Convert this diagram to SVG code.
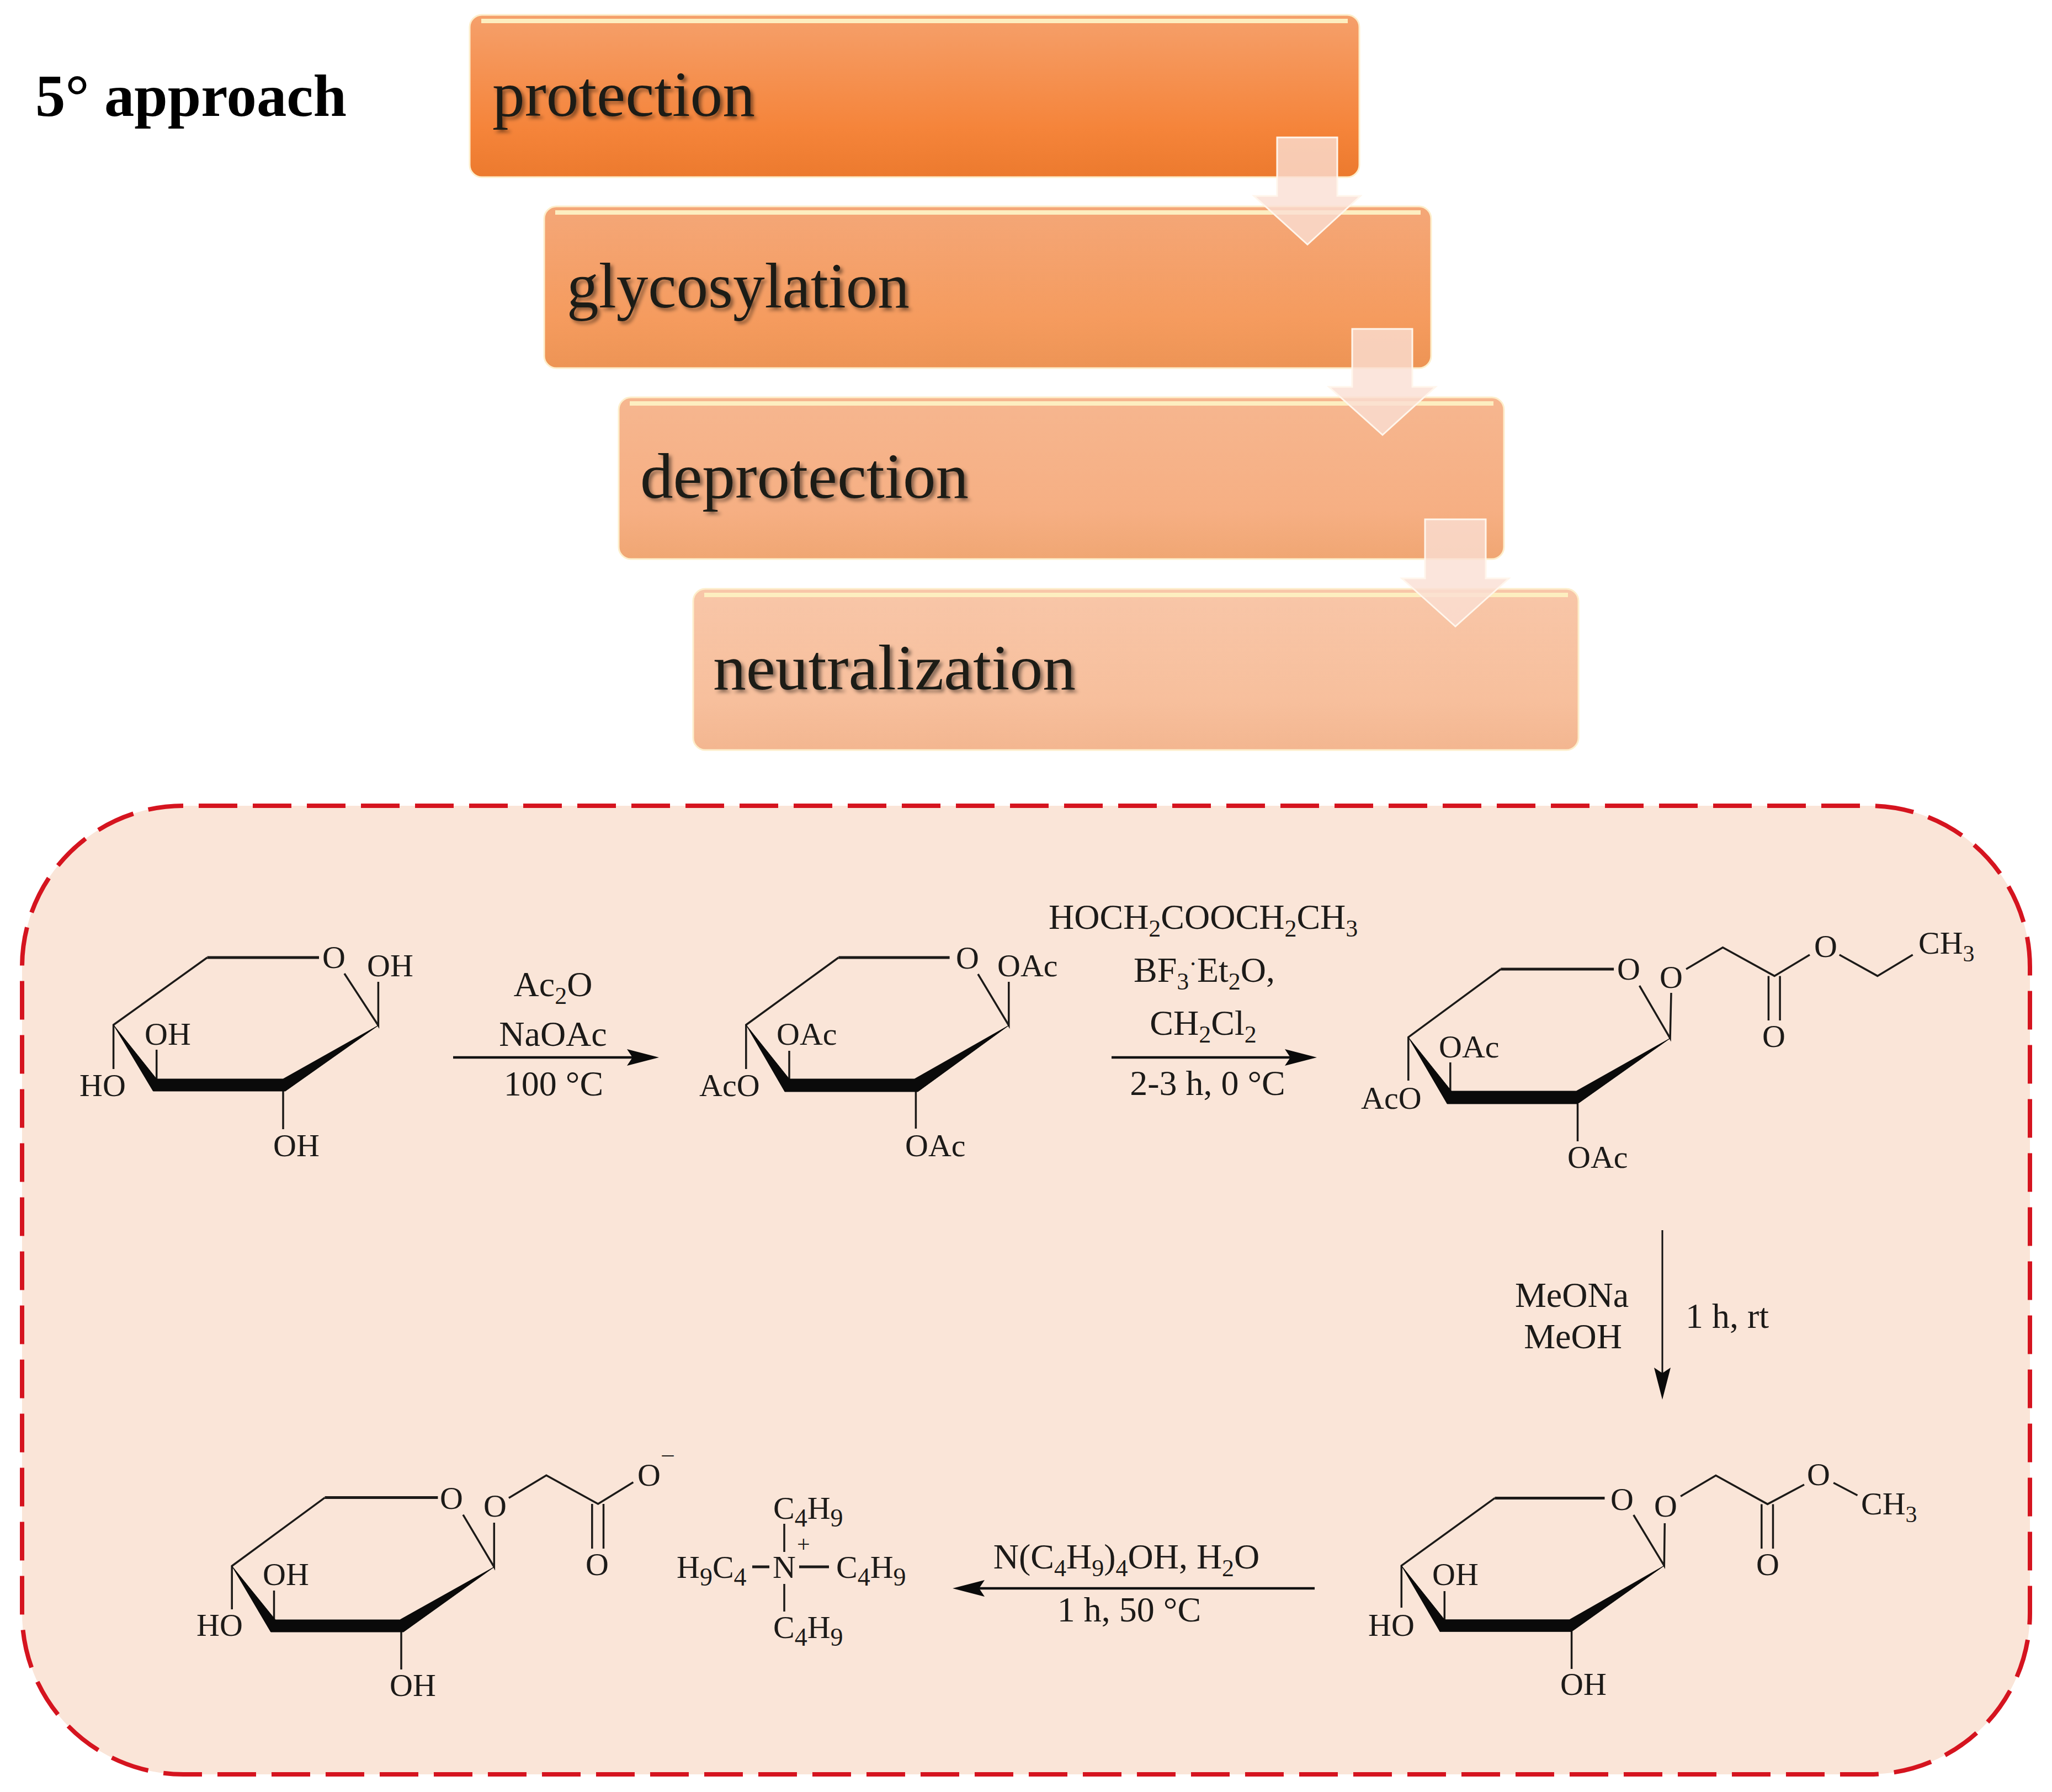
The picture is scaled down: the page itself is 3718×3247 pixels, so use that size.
<svg xmlns="http://www.w3.org/2000/svg" width="3718" height="3247" viewBox="0 0 3718 3247">
<style>
text{font-family:"Liberation Serif","Times New Roman",serif;fill:#1c1a18}
.l{font-size:58px}
.r{font-size:64px}
.c{text-anchor:middle}
.s{font-size:42px}
.cs{font-size:46px}
.rs{font-size:44px}
.h{font-size:116px;filter:url(#ts)}
.t{font-size:108px;font-weight:bold;fill:#000}
.b{fill:none;stroke:#1c1a18;stroke-width:3.5}
.tb{fill:none;stroke:#1c1a18;stroke-width:5}
.f{fill:#0a0a0a;stroke:#0a0a0a;stroke-width:1}
.box{stroke:#fdeecb;stroke-width:3}
.hl{fill:none;stroke:#fdeec0;stroke-width:8}
.dn{fill:#fadfd3;fill-opacity:.8;stroke:#fff6ec;stroke-width:3}
.ra{fill:none;stroke:#111;stroke-width:4.5;marker-end:url(#ah)}
</style>
<defs>
<filter id="ts" x="-5%" y="-20%" width="110%" height="140%"><feDropShadow dx="5" dy="5" stdDeviation="3" flood-color="#000" flood-opacity=".45"/></filter>
<linearGradient id="g1" x1="0" y1="0" x2="0" y2="1"><stop offset="0" stop-color="#f5a06b"/><stop offset=".7" stop-color="#f5843a"/><stop offset="1" stop-color="#ec7a2e"/></linearGradient>
<linearGradient id="g2" x1="0" y1="0" x2="0" y2="1"><stop offset="0" stop-color="#f4a778"/><stop offset=".7" stop-color="#f59b5e"/><stop offset="1" stop-color="#ed9455"/></linearGradient>
<linearGradient id="g3" x1="0" y1="0" x2="0" y2="1"><stop offset="0" stop-color="#f6b68f"/><stop offset=".7" stop-color="#f6af83"/><stop offset="1" stop-color="#f0a673"/></linearGradient>
<linearGradient id="g4" x1="0" y1="0" x2="0" y2="1"><stop offset="0" stop-color="#f8c6a8"/><stop offset=".7" stop-color="#f7bf9c"/><stop offset="1" stop-color="#f3b690"/></linearGradient>
<marker id="ah" markerUnits="userSpaceOnUse" viewBox="0 0 60 32" refX="40" refY="16" markerWidth="60" markerHeight="32" orient="auto"><path d="M2,1 L60,16 L2,31 L12,16Z" fill="#0a0a0a"/></marker>
</defs>
<rect width="3718" height="3247" fill="#fff"/>
<text id="title" class="t" x="64" y="210" textLength="564" lengthAdjust="spacingAndGlyphs">5° approach</text>

<g id="step-protection">
<rect class="box" x="851" y="27" width="1612" height="294" rx="22" fill="url(#g1)"/>
<path class="hl" d="M872,38H2442"/>
<text class="h" x="892" y="210" textLength="476" lengthAdjust="spacingAndGlyphs">protection</text>
</g>
<g id="step-glycosylation">
<rect class="box" x="986" y="374" width="1607" height="293" rx="22" fill="url(#g2)"/>
<path class="hl" d="M1006,385H2574"/>
<text class="h" x="1027" y="557" textLength="621" lengthAdjust="spacingAndGlyphs">glycosylation</text>
</g>
<g id="step-deprotection">
<rect class="box" x="1121" y="720" width="1604" height="293" rx="22" fill="url(#g3)"/>
<path class="hl" d="M1141,731H2706"/>
<text class="h" x="1160" y="902" textLength="595" lengthAdjust="spacingAndGlyphs">deprotection</text>
</g>
<g id="step-neutralization">
<rect class="box" x="1256" y="1067" width="1604" height="292" rx="22" fill="url(#g4)"/>
<path class="hl" d="M1276,1078H2841"/>
<text class="h" x="1292" y="1249" textLength="657" lengthAdjust="spacingAndGlyphs">neutralization</text>
</g>

<rect id="panel" x="40" y="1460" width="3638" height="1755" rx="292" fill="#fae5d8" stroke="#d5141f" stroke-width="8" stroke-dasharray="70 28" stroke-dashoffset="-28"/>

<g id="connectors">
<path class="dn" d="M2314,249H2423V355H2465L2369,443L2272,355H2314Z"/>
<path class="dn" d="M2450,596H2559V701H2601L2505,788L2408,701H2450Z"/>
<path class="dn" d="M2582,941H2692V1048H2734L2637,1135L2540,1048H2582Z"/>
<path class="ra" d="M821,1916H1174"/>
<path class="ra" d="M2014,1916H2366"/>
<path class="ra" style="stroke-width:3" d="M3012,2229V2516"/>
<path class="ra" d="M2382,2878H1746"/>
</g>

<g id="mol1">
<path class="tb" d="M375.5,1735H578"/>
<path class="b" d="M375.5,1735L205.6,1857V1937M624,1764L685.4,1858V1779M283.7,1955V1902M513,1977V2046"/>
<path class="f" d="M685.4,1858L513,1955L517,1977ZM283.7,1955H513L517,1977H277.5ZM205.6,1857L283.7,1955L277.5,1977Z"/>
<text class="l c" x="605" y="1754">O</text>
<text class="l" x="665" y="1769">OH</text>
<text class="l" x="262" y="1893">OH</text>
<text class="l" x="144" y="1986">HO</text>
<text class="l" x="495" y="2095">OH</text>
</g>
<g id="reagents1">
<text class="r c" x="1002" y="1805">Ac<tspan class="rs" dy="14">2</tspan><tspan dy="-14">O</tspan></text>
<text class="r c" x="1002" y="1895">NaOAc</text>
<text class="r c" x="1003" y="1985">100 °C</text>
</g>

<g id="mol2">
<path class="tb" d="M1519.4,1735H1720.6"/>
<path class="b" d="M1519.4,1735L1351.8,1857V1937M1772,1765L1827.8,1858V1779M1430,1955V1904M1659.4,1978V2045"/>
<path class="f" d="M1827.8,1858L1657,1955L1663,1978ZM1430,1955H1657L1663,1978H1422ZM1351.8,1857L1430,1955L1422,1978Z"/>
<text class="l c" x="1753" y="1755">O</text>
<text class="l" x="1807" y="1769">OAc</text>
<text class="l" x="1407" y="1893">OAc</text>
<text class="l" x="1267" y="1986">AcO</text>
<text class="l" x="1640" y="2095">OAc</text>
</g>
<g id="reagents2">
<text class="r" x="1900" y="1683">HOCH<tspan class="rs" dy="14">2</tspan><tspan dy="-14">COOCH</tspan><tspan class="rs" dy="14">2</tspan><tspan dy="-14">CH</tspan><tspan class="rs" dy="14">3</tspan></text>
<text class="r c" x="2182" y="1779">BF<tspan class="rs" dy="14">3</tspan><tspan class="rs" dy="-32">·</tspan><tspan dy="18">Et</tspan><tspan class="rs" dy="14">2</tspan><tspan dy="-14">O,</tspan></text>
<text class="r c" x="2180" y="1875">CH<tspan class="rs" dy="14">2</tspan><tspan dy="-14">Cl</tspan><tspan class="rs" dy="14">2</tspan></text>
<text class="r c" x="2188" y="1984">2-3 h, 0 °C</text>
</g>

<g id="mol3">
<path class="tb" d="M2719.3,1756H2924.1"/>
<path class="b" d="M2719.3,1756L2551.8,1879.4V1958M2970.5,1786L3026.1,1881.3L3028,1799M2627.8,1977V1925M2858.5,2000V2068"/>
<path class="f" d="M3026.1,1881.3L2856.1,1977L2858.5,2000ZM2629.8,1977H2856.1L2858.5,2000H2622.2ZM2551.8,1879.4L2629.8,1977L2622.2,2000Z"/>
<path class="b" d="M3055.1,1756L3121.5,1716.7L3215.1,1768.4L3279,1730M3332.8,1730L3401.8,1768.4L3465.7,1730M3204.4,1768.4V1849M3225.1,1768.4V1849"/>
<text class="l c" x="2951" y="1775">O</text>
<text class="l c" x="3028" y="1790">O</text>
<text class="l c" x="3308" y="1734">O</text>
<text class="l c" x="3214" y="1897">O</text>
<text class="l" x="3476" y="1728">CH<tspan class="s" dy="14">3</tspan></text>
<text class="l" x="2607" y="1916">OAc</text>
<text class="l" x="2466" y="2009">AcO</text>
<text class="l" x="2840" y="2116">OAc</text>
</g>
<g id="reagents3">
<text class="r c" x="2848" y="2368">MeONa</text>
<text class="r c" x="2850" y="2443">MeOH</text>
<text class="r" x="3054" y="2406">1 h, rt</text>
</g>

<g id="mol4">
<path class="tb" d="M2708.5,2714.4H2907.5"/>
<path class="b" d="M2708.5,2714.4L2539.3,2836.9V2913M2959.8,2745L3015.3,2836.9L3016.3,2760M2617.3,2935V2883M2847.6,2956V3024"/>
<path class="f" d="M3015.3,2836.9L2843.7,2934.8L2847.6,2956.3ZM2617.3,2934.8H2843.7L2847.6,2956.3H2609ZM2539.3,2836.9L2617.3,2934.8L2609,2956.3Z"/>
<path class="b" d="M3045.1,2711.3L3108.9,2673.4L3202.6,2725.4L3269,2690M3322.1,2686.8L3365.5,2709.5M3191.8,2725.4V2806M3212.5,2725.4V2806"/>
<text class="l c" x="2939" y="2736">O</text>
<text class="l c" x="3018" y="2748">O</text>
<text class="l c" x="3295" y="2691">O</text>
<text class="l c" x="3203" y="2854">O</text>
<text class="l" x="3372" y="2744">CH<tspan class="s" dy="14">3</tspan></text>
<text class="l" x="2595" y="2872">OH</text>
<text class="l" x="2479" y="2964">HO</text>
<text class="l" x="2827" y="3071">OH</text>
</g>
<g id="reagents4">
<text class="r c" x="2041" y="2842">N(C<tspan class="rs" dy="14">4</tspan><tspan dy="-14">H</tspan><tspan class="rs" dy="14">9</tspan><tspan dy="-14">)</tspan><tspan class="rs" dy="14">4</tspan><tspan dy="-14">OH, H</tspan><tspan class="rs" dy="14">2</tspan><tspan dy="-14">O</tspan></text>
<text class="r c" x="2046" y="2938">1 h, 50 °C</text>
</g>

<g id="mol5">
<path class="tb" d="M588.6,2713.6H793.4"/>
<path class="b" d="M588.6,2713.6L420.2,2837.5V2916M839,2744.6L895.3,2839.3V2759M496.5,2935V2882M727,2957V3025"/>
<path class="f" d="M895.3,2839.3L724.5,2935L731,2957ZM499,2935H724.5L731,2957H490.7ZM420.2,2837.5L499,2935L490.7,2957Z"/>
<path class="b" d="M921.9,2714.3L989.9,2673.2L1083.6,2725L1147.4,2685.7M1072.8,2725V2806M1093.5,2725V2806"/>
<text class="l c" x="818" y="2734">O</text>
<text class="l c" x="897" y="2748">O</text>
<text class="l c" x="1176" y="2692">O</text>
<text class="s c" x="1210" y="2648">–</text>
<text class="l c" x="1082" y="2854">O</text>
<text class="l" x="476" y="2872">OH</text>
<text class="l" x="356" y="2964">HO</text>
<text class="l" x="706" y="3073">OH</text>
</g>
<g id="cation">
<text class="l" x="1401" y="2752">C<tspan class="cs" dy="14">4</tspan><tspan dy="-14">H</tspan><tspan class="cs" dy="14">9</tspan></text>
<text class="l" x="1226" y="2859">H<tspan class="cs" dy="14">9</tspan><tspan dy="-14">C</tspan><tspan class="cs" dy="14">4</tspan></text>
<text class="l c" x="1421" y="2859">N</text>
<text class="s" x="1444" y="2812">+</text>
<text class="l" x="1515" y="2859">C<tspan class="cs" dy="14">4</tspan><tspan dy="-14">H</tspan><tspan class="cs" dy="14">9</tspan></text>
<text class="l" x="1401" y="2968">C<tspan class="cs" dy="14">4</tspan><tspan dy="-14">H</tspan><tspan class="cs" dy="14">9</tspan></text>
<path class="tb" d="M1363,2839H1394M1448,2839H1502"/>
<path class="b" d="M1421,2761V2812M1421,2870V2920"/>
</g>
</svg>
